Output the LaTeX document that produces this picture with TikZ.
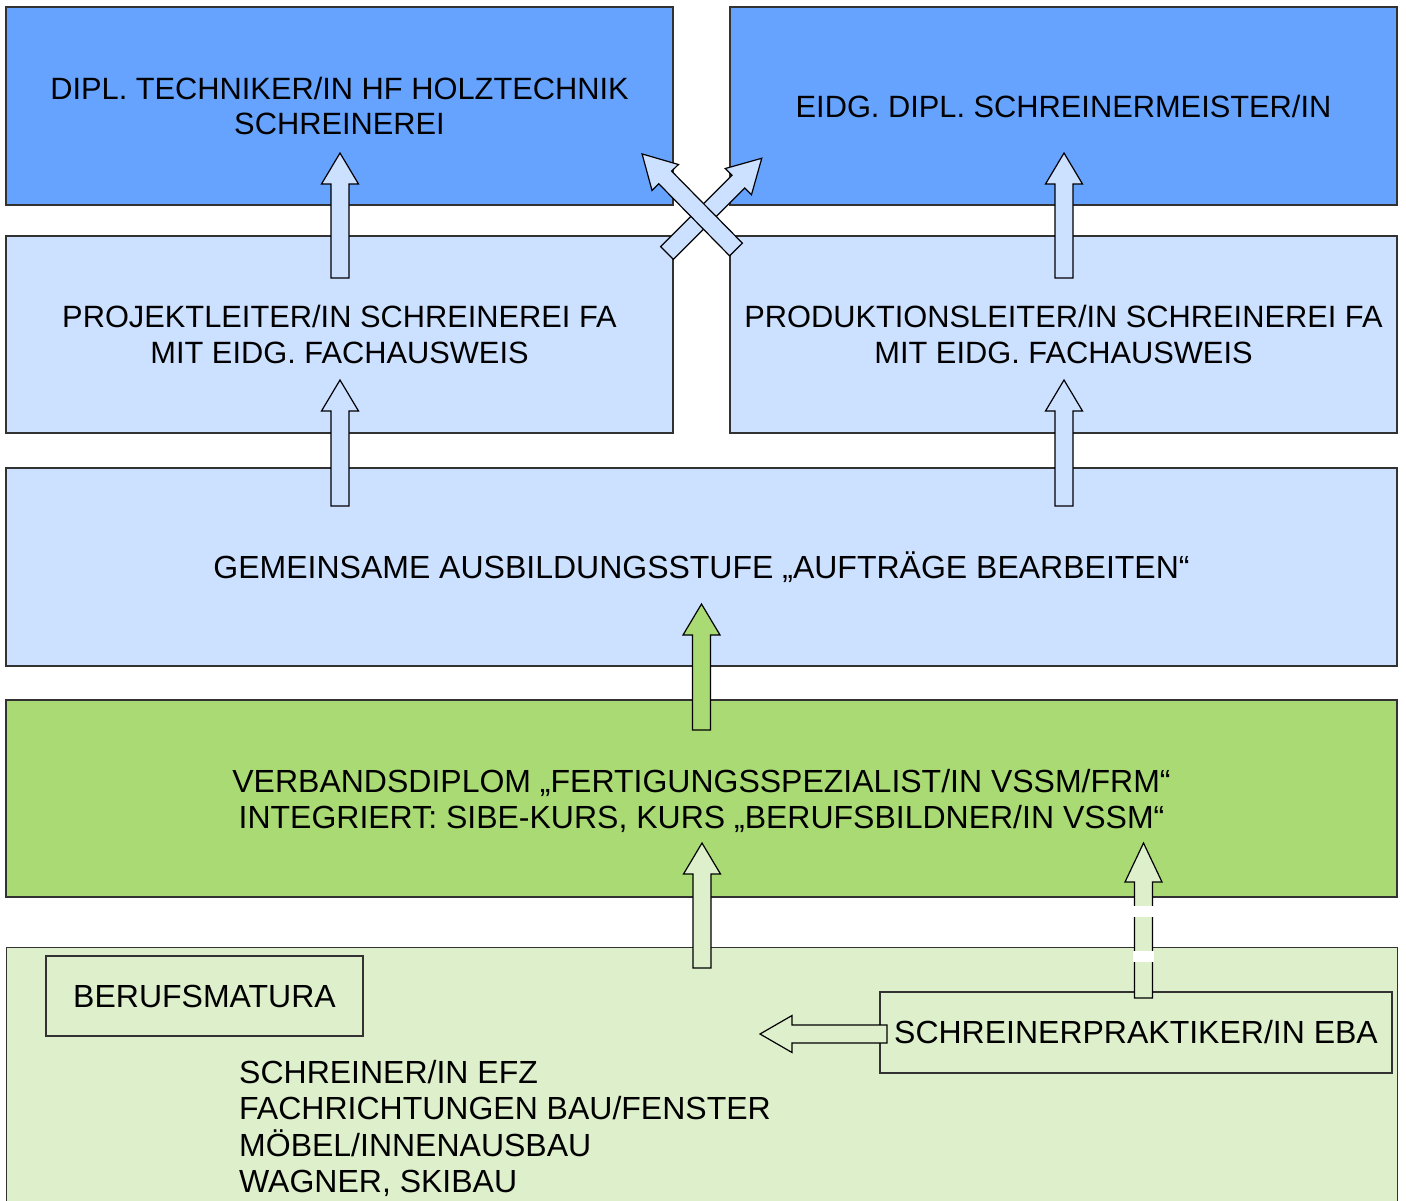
\documentclass[tikz,border=0pt]{standalone}
\usepackage{fontspec}
\setmainfont{Liberation Sans}
\definecolor{blueD}{RGB}{102,163,255}
\definecolor{blueL}{RGB}{204,224,255}
\definecolor{greenD}{RGB}{169,218,116}
\definecolor{greenL}{RGB}{221,239,203}
\definecolor{edge}{RGB}{50,50,50}
\tikzset{
  box/.style={draw=edge, line width=1.3pt, inner sep=0pt, align=center,
    font=\fontsize{32}{36.2}\selectfont},
  topbox/.style={box, font=\fontsize{30.8}{35.2}\selectfont},
  label/.style={inner sep=0pt, align=center, font=\fontsize{32}{36.2}\selectfont},
  arrowline/.style={draw=black, line width=1.2pt, line join=miter},
  pics/barrow/.style args={#1/#2/#3}{code={
    \draw[arrowline,#3] (0,-9) -- (#1-#2,-9) -- (#1-#2,-18.5) -- (#1,0)
      -- (#1-#2,18.5) -- (#1-#2,9) -- (0,9) -- cycle;}}
}
\begin{document}
\begin{tikzpicture}[x=1pt,y=-1pt]
\useasboundingbox (0,0) rectangle (1406,1200);
\clip (0,0) rectangle (1406,1200);
\fill[white] (0,0) rectangle (1406,1200);
% boxes
\node[topbox, fill=blueD, minimum width=667, minimum height=198] (techniker) at (339.5,106)
  {DIPL. TECHNIKER/IN HF HOLZTECHNIK\\SCHREINEREI};
\node[topbox, fill=blueD, minimum width=667, minimum height=198] (meister) at (1063.5,106)
  {EIDG. DIPL. SCHREINERMEISTER/IN};
\node[topbox, fill=blueL, minimum width=667, minimum height=197] (projekt) at (339.5,334.5)
  {PROJEKTLEITER/IN SCHREINEREI FA\\MIT EIDG. FACHAUSWEIS};
\node[topbox, fill=blueL, minimum width=667, minimum height=197] (produktion) at (1063.5,334.5)
  {PRODUKTIONSLEITER/IN SCHREINEREI FA\\MIT EIDG. FACHAUSWEIS};
\node[box, fill=blueL, minimum width=1391, minimum height=198] (gemeinsam) at (701.5,567)
  {GEMEINSAME AUSBILDUNGSSTUFE „AUFTRÄGE BEARBEITEN“};
\node[box, fill=greenD, minimum width=1391, minimum height=197] (verband) at (701.5,798.5) {};
\node[label] (verbandtext) at (701.5,801)
  {VERBANDSDIPLOM „FERTIGUNGSSPEZIALIST/IN VSSM/FRM“\\INTEGRIERT: SIBE-KURS, KURS „BERUFSBILDNER/IN VSSM“};
\node[box, fill=greenL, minimum width=1391, minimum height=280, anchor=north west] (grund) at (6,947) {};
\node[box, fill=greenL, minimum width=317, minimum height=80] (matura) at (204.5,996) {BERUFSMATURA};
\node[box, fill=greenL, minimum width=512, minimum height=81] (praktiker) at (1136,1032.5) {SCHREINERPRAKTIKER/IN EBA};
\node[anchor=north west, align=left, inner sep=0pt, font=\fontsize{32}{36.3}\selectfont] (efz) at (239,1060)
  {SCHREINER/IN EFZ\\FACHRICHTUNGEN BAU/FENSTER\\MÖBEL/INNENAUSBAU\\WAGNER, SKIBAU};
% arrows
\pic[rotate=90] at (340,278) {barrow={125/31/fill=blueL}};
\pic[rotate=90] at (340,506) {barrow={126/31/fill=blueL}};
\pic[rotate=90] at (1064,278) {barrow={125/31/fill=blueL}};
\pic[rotate=90] at (1064,506) {barrow={126/31/fill=blueL}};
\pic[rotate=90] at (701.5,730) {barrow={126/31/fill=greenD}};
\pic[rotate=90] at (702,968) {barrow={125/31/fill=greenL}};
\pic[rotate=90] at (1143.5,998) {barrow={155/39/fill=greenL}};
\fill[white] (1133,906) rectangle (1154,917);
\fill[white] (1133,951) rectangle (1154,962);
\pic[rotate=180] at (887,1034) {barrow={127/32/fill=greenL}};
% crossing arrows
\pic[rotate=45] at (667,253) {barrow={134/33/fill=blueL}};
\pic[rotate=134.5] at (736,249.5) {barrow={134/33/fill=blueL}};
\end{tikzpicture}
\end{document}
